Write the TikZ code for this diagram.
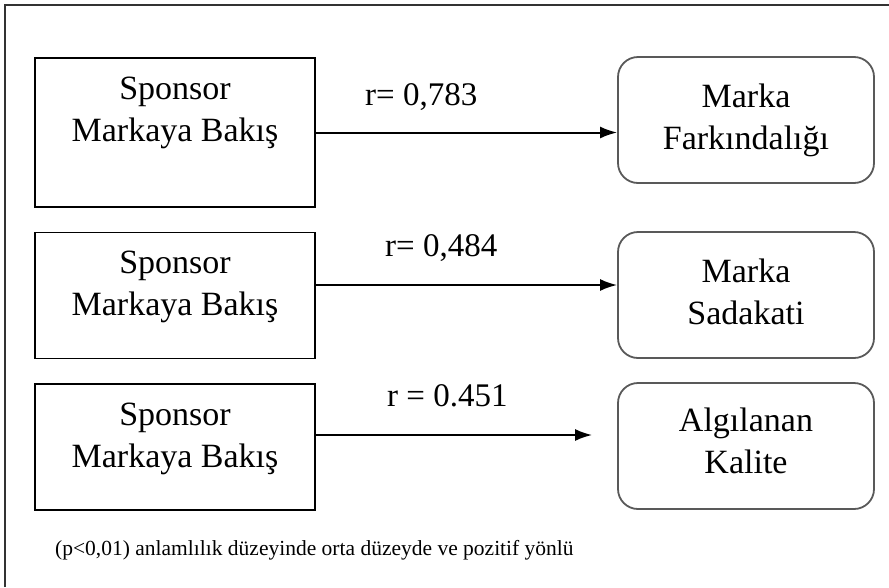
\documentclass[tikz,border=0pt]{standalone}
\usepackage{fontspec}
\setmainfont{Liberation Serif}
\usetikzlibrary{arrows.meta}
\tikzset{
  srcbox/.style={draw, line width=1.8pt, minimum width=280pt, minimum height=126pt, inner sep=0pt},
  tgtbox/.style={draw=black!65, line width=1.8pt, rounded corners=20pt, minimum width=256pt, minimum height=126pt, inner sep=0pt},
  boxtext/.style={align=center, inner sep=0pt, font=\fontsize{34}{42}\selectfont},
  rlabel/.style={anchor=base west, inner sep=0pt, font=\fontsize{33}{40}\selectfont},
  link/.style={line width=2pt, -{Latex[length=17pt,width=12pt]}}
}
\begin{document}
\begin{tikzpicture}[x=1pt, y=-1pt]
  \useasboundingbox (0,0) rectangle (889,587);
  \draw [line width=1.6pt, black!80] (5,587) -- (5,5) -- (889,5);
  % left boxes
  \node [srcbox, minimum height=149pt] (s1) at (175,132.5) {};
  \node [srcbox] (s2) at (175,295.5) {};
  \node [srcbox] (s3) at (175,447) {};
  \node [boxtext] (s1t) at (175,113) {Sponsor\\Markaya Bakış};
  \node [boxtext] (s2t) at (175,287) {Sponsor\\Markaya Bakış};
  \node [boxtext] (s3t) at (175,439) {Sponsor\\Markaya Bakış};
  % right boxes
  \node [tgtbox] (t1) at (746,120) {};
  \node [tgtbox] (t2) at (746,295) {};
  \node [tgtbox] (t3) at (746,446) {};
  \node [boxtext] (t1t) at (746,120) {Marka\\Farkındalığı};
  \node [boxtext] (t2t) at (746,292) {Marka\\Sadakati};
  \node [boxtext] (t3t) at (746,441) {Algılanan\\Kalite};
  % arrows
  \coordinate (a1) at (s1.east);
  \coordinate (a2) at ([yshift=10.5pt]s2.east);
  \coordinate (a3) at ([yshift=12pt]s3.east);
  \draw [link] (a1) -- (a1 -| t1.west);
  \draw [link] (a2) -- (a2 -| t2.west);
  \draw [link, shorten >=25pt] (a3) -- (a3 -| t3.west);
  \node [rlabel] (r1) at (365,105) {r= 0,783};
  \node [rlabel] (r2) at (385,256) {r= 0,484};
  \node [rlabel] (r3) at (387,406) {r = 0.451};
  \node [anchor=base west, inner sep=0pt, font=\fontsize{21.5}{26}\selectfont] (note) at (55,555)
    {(p<0,01) anlamlılık düzeyinde orta düzeyde ve pozitif yönlü};
\end{tikzpicture}
\end{document}
